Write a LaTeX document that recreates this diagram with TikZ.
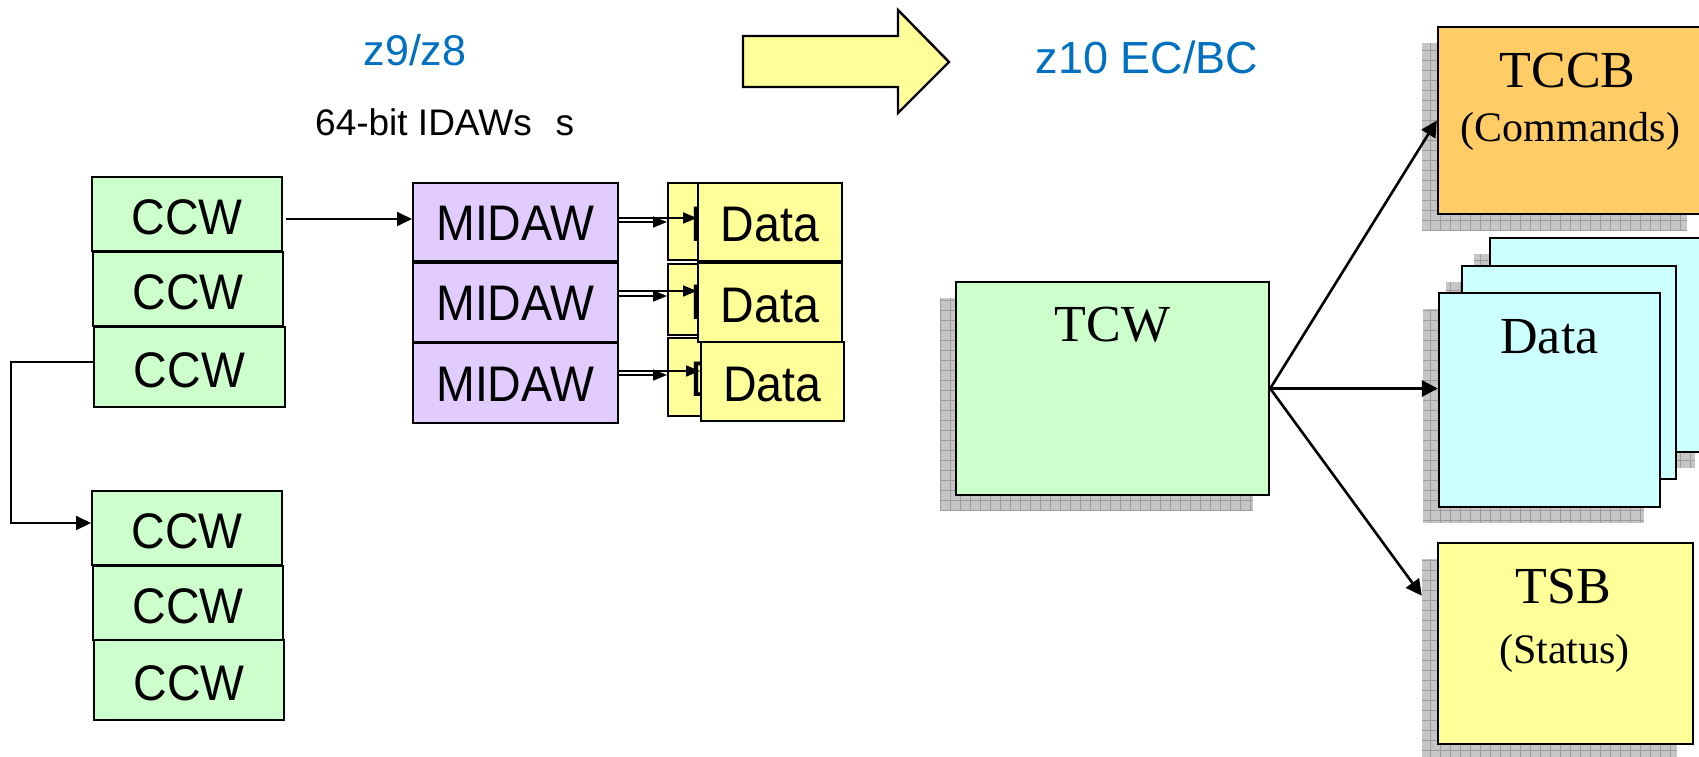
\documentclass[tikz,border=0pt]{standalone}
\usepackage{fontspec}
\setmainfont{Liberation Serif}
\setsansfont{Liberation Sans}
\newfontfamily\boxsans[FakeStretch=0.93]{Liberation Sans}
\usetikzlibrary{arrows.meta,calc}
\definecolor{ccwg}{HTML}{CCFFCC}
\definecolor{midc}{HTML}{E2CCFF}
\definecolor{yelc}{HTML}{FFFF99}
\definecolor{orc}{HTML}{FFCC66}
\definecolor{cyc}{HTML}{CCFFFF}
\definecolor{bluec}{HTML}{0070C0}
\definecolor{shadowc}{HTML}{C6C6C6}
\definecolor{gridc}{HTML}{9C9C9C}
\tikzset{
  boxl/.style={draw, line width=2pt, inner sep=0, text height=41pt, text depth=0pt, font=\boxsans\fontsize{50}{50}\selectfont},
  ccw/.style={boxl, fill=ccwg, minimum width=190, minimum height=74},
  midaw/.style={boxl, text height=36pt, fill=midc, minimum width=205, minimum height=79},
  datal/.style={boxl, text height=39pt, fill=yelc, minimum width=144, minimum height=78},
  boxr/.style={draw, line width=2.4pt, inner sep=0},
  shadowbox/.style={fill=shadowc, path picture={\draw[gridc, line width=0.7pt, step=10pt] (path picture bounding box.south west) grid (path picture bounding box.north east);}},
  arrl/.style={line width=2pt, -{Triangle[length=15pt,width=14pt]}},
  arrm/.style={line width=1.6pt, -{Triangle[length=14pt,width=11pt]}},
  arrr/.style={line width=2.6pt, -{Triangle[length=16pt,width=16pt]}},
  bigtxt/.style={font=\fontsize{52}{52}\selectfont, anchor=base, inner sep=0},
  smalltxt/.style={font=\fontsize{42}{42}\selectfont, anchor=base, inner sep=0},
  bluetxt/.style={text=bluec, anchor=base, inner sep=0}
}
\begin{document}
\begin{tikzpicture}[x=1pt,y=-1pt]
\fill[white] (0,0) rectangle (1699,756);
\clip (0,0) rectangle (1699,756);
\useasboundingbox (0,0) rectangle (1699,756);

% titles
\node[bluetxt, font=\sffamily\fontsize{43}{43}\selectfont] (t98) at (415,65) {z9/z8};
\node[anchor=base west, inner sep=0, font=\sffamily\fontsize{37}{37}\selectfont] (tidaw) at (315,135) {64-bit IDAWs\hspace{24pt}s};
\node[bluetxt, font=\sffamily\fontsize{45}{45}\selectfont] (t10) at (1147,73) {z10 EC/BC};

% big arrow
\path[draw, fill=yelc, line width=2.4pt, line join=miter] (743,36) -- (898,36) -- (898,10) -- (949,62) -- (898,113) -- (898,87) -- (743,87) -- cycle;

% CCW chains
\node[ccw] (c1) at (187,214) {CCW};
\node[ccw] (c2) at (188,289) {CCW};
\node[ccw, minimum width=191, minimum height=80] (c3) at (189.5,367) {CCW};
\node[ccw] (c4) at (187,528) {CCW};
\node[ccw] (c5) at (188,603) {CCW};
\node[ccw, minimum height=80] (c6) at (189,680) {CCW};

% MIDAWs
\node[midaw, minimum height=78] (m1) at (515.5,222) {MIDAW};
\node[midaw] (m2) at (515.5,302.5) {MIDAW};
\node[midaw, minimum height=80] (m3) at (515.5,383) {MIDAW};

% back data
\node[datal, minimum height=77] (b1) at (740,221.5) {Data};
\node[datal, minimum height=71] (b2) at (740,299.5) {Data};
\node[datal, minimum height=78] (b3) at (740,377) {Data};
% front data
\node[datal] (d1) at (770,222) {Data};
\node[datal, minimum height=79] (d2) at (770,302.5) {Data};
\node[datal, minimum width=143, minimum height=79] (d3) at (772.5,381.5) {Data};

% left connectors
\coordinate (s1) at ([xshift=3pt,yshift=-5pt]c1.east);
\draw[arrl] (s1) -- (s1 -| m1.west);
\draw[arrl] ([yshift=5pt]c3.west) -- ++(-82,0) |- ([yshift=5pt]c4.west);

\coordinate (l1) at (m1.east);
\coordinate (u1) at ([yshift=4pt]m1.east);
\coordinate (l2) at ([yshift=6.5pt]m2.east);
\coordinate (u2) at ([yshift=11.5pt]m2.east);
\coordinate (l3) at ([yshift=8pt]m3.east);
\coordinate (u3) at ([yshift=12pt]m3.east);
\draw[arrm] (l1) -- (l1 -| b1.west);
\draw[arrm] (u1) -- (u1 -| d1.west);
\draw[arrm] (l2) -- (l2 -| b2.west);
\draw[arrm] (u2) -- (u2 -| d2.west);
\draw[arrm] (l3) -- (l3 -| b3.west);
\draw[arrm] (u3) -- (u3 -| d3.west);

% right side
\path[shadowbox] (940,298) rectangle (1253,511);
\node[boxr, fill=ccwg, minimum width=313, minimum height=213] (tcw) at (1112.5,388.5) {};
\node[bigtxt] (tcwt) at ($(tcw.north)+(0,61)$) {TCW};

\path[shadowbox] (1422,43) rectangle (1687,230);
\node[boxr, fill=orc, minimum width=265, minimum height=187] (tccb) at (1570.5,120.5) {};
\node[bigtxt] (tccbt) at ($(tccb.north)+(-3,62)$) {TCCB};
\node[smalltxt] (tccbs) at ($(tccb.north)+(0,116)$) {(Commands)};

\path[shadowbox] (1474,254) rectangle (1695,468);
\node[boxr, fill=cyc, minimum width=221, minimum height=214] (dat3) at (1600.5,345) {};
\path[shadowbox] (1446,282) rectangle (1660,495);
\node[boxr, fill=cyc, minimum width=214, minimum height=213] (dat2) at (1569,372.5) {};
\path[shadowbox] (1423,309) rectangle (1644,523);
\node[boxr, fill=cyc, minimum width=221, minimum height=214] (dat1) at (1549.5,400) {};
\node[bigtxt] (dat1t) at ($(dat1.north)+(0,62)$) {Data};

\path[shadowbox] (1422,559) rectangle (1677,760);
\node[boxr, fill=yelc, minimum width=255, minimum height=201] (tsb) at (1565.5,643.5) {};
\node[bigtxt] (tsbt) at ($(tsb.north)+(-2,62)$) {TSB};
\node[smalltxt] (tsbs) at ($(tsb.north)+(-1,122)$) {(Status)};

\coordinate (tsbin) at ($(tsb.north west)+(-15,54)$);
\draw[arrr] (tcw.east) -- (tccb.west);
\draw[arrr, line width=3.4pt] (tcw.east) -- (tcw.east -| dat1.west);
\draw[arrr] (tcw.east) -- (tsbin);
\end{tikzpicture}
\end{document}
